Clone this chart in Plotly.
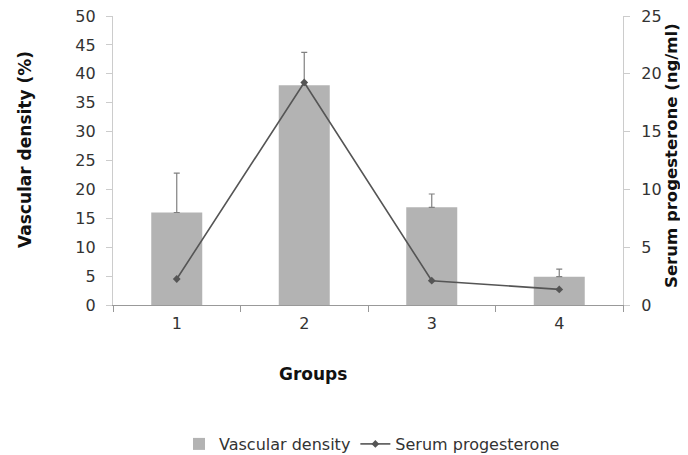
import plotly.graph_objects as go

groups = ["1", "2", "3", "4"]
vascular_density = [16.0, 38.0, 16.9, 4.9]
vascular_err = [6.8, 5.7, 2.3, 1.3]
progesterone = [2.25, 19.25, 2.1, 1.35]
left_ticks = [0, 5, 10, 15, 20, 25, 30, 35, 40, 45, 50]
right_ticks = [0, 5, 10, 15, 20, 25]

font = "DejaVu Sans, Verdana, sans-serif"
OFF = 8  # page body margin offset
W, H = 688 - OFF, 455 - OFF
L, T = 113 - OFF, 16 - OFF
R = W - (623 - OFF)
B = H - (305 - OFF)
pw = W - L - R
ph = H - T - B


def px(x):
    return (x - 113) / pw


def py(y):
    return (305 - y) / ph


fig = go.Figure()
fig.add_trace(go.Bar(
    x=groups, y=vascular_density, name="Vascular density",
    marker=dict(color="#b3b3b3", line=dict(width=0)), width=0.4,
    error_y=dict(type="data", symmetric=False, array=vascular_err,
                 arrayminus=[0, 0, 0, 0], color="#808080", thickness=1.2, width=3),
))
fig.add_trace(go.Scatter(
    x=groups, y=progesterone, name="Serum progesterone", yaxis="y2",
    mode="lines+markers", line=dict(color="#555555", width=1.6),
    marker=dict(symbol="diamond", size=6, color="#555555"),
))
fig.update_layout(
    width=W, height=H, plot_bgcolor="white", paper_bgcolor="white",
    margin=dict(l=L, r=R, t=T, b=B, autoexpand=False),
    font=dict(family=font, size=16, color="#333333"),
    showlegend=True,
    legend=dict(orientation="h", x=px(372), xanchor="center", y=py(444), yanchor="middle",
                font=dict(size=16, color="#333333"), tracegroupgap=0, itemwidth=30),
    xaxis=dict(type="category", range=[-0.5, 3.5], showline=True, linecolor="#999999",
               linewidth=1.2, ticks="outside", tickson="boundaries", ticklen=6,
               tickcolor="#999999", showgrid=False, automargin=False,
               tickfont=dict(size=16), ticklabelstandoff=4),
    yaxis=dict(range=[0, 50], tickvals=left_ticks, showline=True, linecolor="#cccccc",
               linewidth=1.2, ticks="outside", ticklen=6, tickcolor="#cccccc",
               showgrid=False, zeroline=False, tickfont=dict(size=16), automargin=False,
               ticklabelstandoff=7, ticklabeloverflow="allow"),
    yaxis2=dict(range=[0, 25], tickvals=right_ticks, overlaying="y", side="right",
                showline=True, linecolor="#cccccc", linewidth=1.2, ticks="outside",
                ticklen=6, tickcolor="#cccccc", showgrid=False, zeroline=False,
                tickfont=dict(size=16), automargin=False, ticklabelstandoff=8,
                ticklabeloverflow="allow"),
    annotations=[
        dict(text="<b>Vascular density (%)</b>", xref="paper", yref="paper",
             x=px(25), y=py(150), textangle=-90, showarrow=False,
             font=dict(size=17, color="#111111"), xanchor="center", yanchor="middle"),
        dict(text="<b>Serum progesterone (ng/ml)</b>", xref="paper", yref="paper",
             x=px(671), y=py(156), textangle=-90, showarrow=False,
             font=dict(size=16.5, color="#111111"), xanchor="center", yanchor="middle"),
        dict(text="<b>Groups</b>", xref="paper", yref="paper",
             x=px(313), y=py(374), showarrow=False,
             font=dict(size=17, color="#111111"), xanchor="center", yanchor="middle"),
    ],
    bargap=0.6,
)
fig.write_html("out.html")
